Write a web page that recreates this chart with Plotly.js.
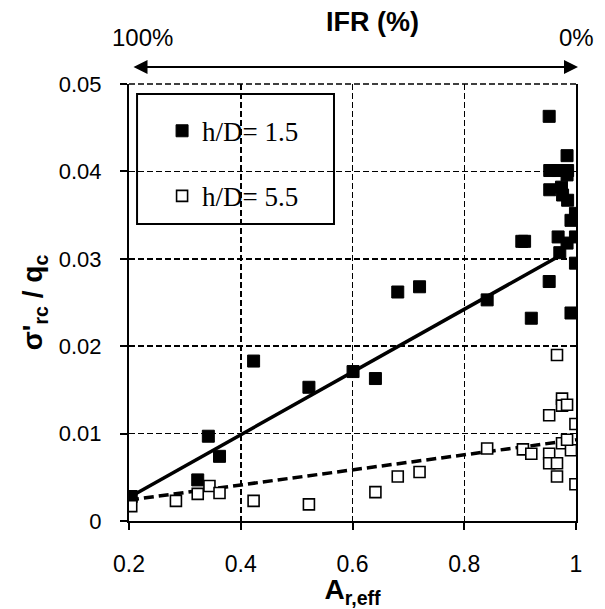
<!DOCTYPE html>
<html>
<head>
<meta charset="utf-8">
<script src="https://cdn.plot.ly/plotly-3.0.1.min.js"></script>
<style>html,body{margin:0;padding:0;background:#fff;}#chart{width:605px;height:609px;}</style>
</head>
<body>
<div id="chart"></div>
<script>
// h/D = 1.5 (filled squares)
var xHD15 = [0.952, 0.984, 0.953, 0.968, 0.985, 0.984, 0.953, 0.974, 0.976, 0.985, 0.999, 0.991,
             0.903, 0.908, 0.968, 0.999, 0.984, 0.971, 0.999, 0.952, 0.720, 0.681, 0.920, 0.991,
             0.641, 0.841, 0.423, 0.522, 0.601, 0.342, 0.362, 0.323, 0.204];
var yHD15 = [0.0463, 0.0418, 0.0401, 0.0401, 0.0401, 0.0396, 0.0379, 0.0382, 0.0373, 0.0367, 0.0352, 0.0344,
             0.0320, 0.0320, 0.0325, 0.0325, 0.0318, 0.0307, 0.0295, 0.0274, 0.0268, 0.0262, 0.0232, 0.0238,
             0.0163, 0.0253, 0.0183, 0.0153, 0.0171, 0.0097, 0.0074, 0.0047, 0.0028];
// h/D = 5.5 (open squares)
var xHD55 = [0.204, 0.284, 0.323, 0.344, 0.362, 0.423, 0.522, 0.641, 0.681, 0.720, 0.841, 0.905,
             0.920, 0.952, 0.952, 0.966, 0.966, 0.966, 0.975, 0.975, 0.984, 0.952, 0.999, 0.975,
             0.991, 0.984, 0.999];
var yHD55 = [0.0017, 0.0023, 0.0031, 0.0040, 0.0032, 0.0023, 0.0019, 0.0033, 0.0051, 0.0056, 0.0083, 0.0082,
             0.0077, 0.0077, 0.0066, 0.0066, 0.0051, 0.0190, 0.0140, 0.0132, 0.0133, 0.0121, 0.0111, 0.0089,
             0.0081, 0.0093, 0.0042];
// trend lines
var xFit15 = [0.2, 0.975];
var yFit15 = [0.0027, 0.0305];
var xFit55 = [0.2, 1.0];
var yFit55 = [0.0024, 0.0093];
var xTicks = [0.2, 0.4, 0.6, 0.8, 1];
var yTicks = [0, 0.01, 0.02, 0.03, 0.04, 0.05];
var legendNames = ['h/D= 1.5', 'h/D= 5.5'];

var traces = [
  {x: xFit15, y: yFit15, mode: 'lines', line: {color: '#000', width: 3.5}, showlegend: false, hoverinfo: 'skip'},
  {x: xFit55, y: yFit55, mode: 'lines', line: {color: '#000', width: 3.5, dash: '10px,5px'}, showlegend: false, hoverinfo: 'skip'},
  {x: xHD15, y: yHD15, mode: 'markers', name: legendNames[0], legendgroup: 'a',
   marker: {symbol: 'square', size: 12, color: '#000', line: {color: '#000', width: 1}}},
  {x: xHD55, y: yHD55, mode: 'markers', name: legendNames[1], legendgroup: 'b',
   marker: {symbol: 'square', size: 11, color: '#fff', line: {color: '#000', width: 1.6}}}
];

var layout = {
  width: 605, height: 609,
  margin: {l: 129, r: 29, t: 84, b: 88, pad: 0},
  paper_bgcolor: '#fff', plot_bgcolor: '#fff',
  font: {family: 'Arial, Liberation Sans, sans-serif', color: '#000', size: 22},
  showlegend: true,
  legend: {x: 0.074, y: 0.948, xanchor: 'left', yanchor: 'top', bgcolor: 'rgba(0,0,0,0)',
           traceorder: 'grouped', tracegroupgap: 27,
           font: {family: 'Liberation Serif, Times New Roman, serif', size: 27, color: '#000'}},
  xaxis: {range: [0.2, 1], tickvals: xTicks, ticktext: xTicks.map(String),
          showline: true, linecolor: '#000', linewidth: 2, mirror: false,
          ticks: 'outside', ticklen: 7, tickwidth: 2, tickcolor: '#000', ticklabelstandoff: 14,
          showgrid: true, gridcolor: '#000', gridwidth: 1.5, griddash: '6px,3px', zeroline: false,
          tickfont: {size: 23},
          title: {text: '<b>A<sub>r,eff</sub></b>', font: {size: 28}, standoff: 4}},
  yaxis: {range: [0, 0.05], tickvals: yTicks, ticktext: yTicks.map(String),
          showline: true, linecolor: '#000', linewidth: 2, mirror: true,
          ticks: 'outside', ticklen: 7, tickwidth: 2, tickcolor: '#000', ticklabelstandoff: 14,
          showgrid: true, gridcolor: '#000', gridwidth: 1.5, griddash: '6px,3px', zeroline: false,
          tickfont: {size: 22},
          title: {text: "<b>σ'<sub>rc</sub> / q<sub>c</sub></b>", font: {size: 28}, standoff: 8}},
  shapes: [
    {type: 'line', xref: 'paper', yref: 'paper', x0: 0, x1: 1, y0: 1, y1: 1,
     line: {color: '#000', width: 1.5, dash: '6px,3px'}},
    {type: 'rect', xref: 'paper', yref: 'paper', x0: 0.018, x1: 0.4586, y0: 0.6796, y1: 0.977,
     layer: 'between', fillcolor: '#fff', line: {color: '#000', width: 2}}
  ],
  annotations: [
    {text: '', xref: 'x', yref: 'paper', x: 1.0036, y: 1.039, axref: 'x', ayref: 'pixel', ax: 0.2054, ay: 0,
     showarrow: true, arrowside: 'end+start', arrowhead: 2, startarrowhead: 2, arrowsize: 1.4, startarrowsize: 1.4,
     arrowwidth: 2, arrowcolor: '#000', standoff: 0, startstandoff: 0},
    {text: '100%', xref: 'paper', yref: 'paper', x: 0.031, y: 1.106, showarrow: false,
     xanchor: 'center', yanchor: 'middle', font: {size: 24}},
    {text: '0%', xref: 'paper', yref: 'paper', x: 1.0, y: 1.106, showarrow: false,
     xanchor: 'center', yanchor: 'middle', font: {size: 24}},
    {text: '<b>IFR (%)</b>', xref: 'paper', yref: 'paper', x: 0.544, y: 1.142, showarrow: false,
     xanchor: 'center', yanchor: 'middle', font: {size: 27}}
  ]
};

Plotly.newPlot('chart', traces, layout, {staticPlot: true, displayModeBar: false});
</script>
</body>
</html>
